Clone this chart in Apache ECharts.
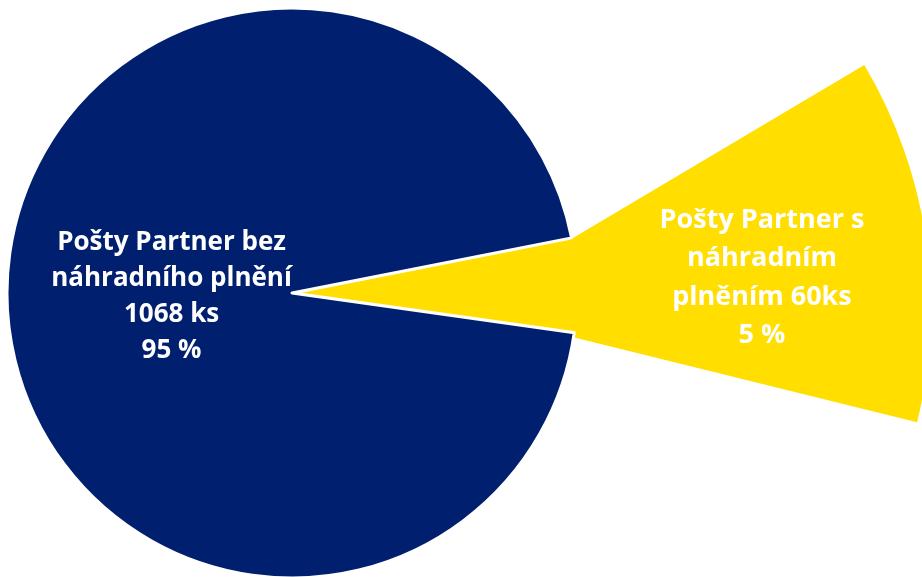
<!DOCTYPE html>
<html>
<head>
<meta charset="utf-8">
<script src="https://cdn.jsdelivr.net/npm/echarts@6/dist/echarts.min.js"></script>
<style>
  html, body { margin: 0; padding: 0; background: #ffffff; }
  #chart { width: 922px; height: 577px; }
</style>
</head>
<body>
<div id="chart"></div>
<script>
// ---- data ----
var categories = ['Pošty Partner bez náhradního plnění', 'Pošty Partner s náhradním plněním'];
var values = [1068, 60];
var unitSuffix = [' ks', 'ks'];
var labelHeads = ['Pošty Partner bez\nnáhradního plnění\n', 'Pošty Partner s\nnáhradním\nplněním '];
var colors = ['#00206F', '#FFDE00'];

var total = values.reduce(function (a, b) { return a + b; }, 0);
function labelText(i) {
  return labelHeads[i] + values[i] + unitSuffix[i] + '\n' + Math.round(values[i] / total * 100) + ' %';
}

var labelFont = {
  color: '#ffffff',
  fontFamily: 'Open Sans',
  fontWeight: 'bold'
};

var chart = echarts.init(document.getElementById('chart'), null, { renderer: 'canvas' });

// callout (label box) drawn as a wide pie slice behind the main pie
var calloutData = categories.map(function (c, i) {
  return {
    name: c,
    value: values[i],
    itemStyle: { color: i === 1 ? colors[1] : 'rgba(0,0,0,0)' },
    label: i === 1 ? Object.assign({ show: true, position: 'inside', fontSize: 27, lineHeight: 38.5,
      formatter: function () { return labelText(1); } }, labelFont) : { show: false }
  };
});

var pieData = categories.map(function (c, i) {
  return {
    name: c,
    value: values[i],
    selected: i === 1,
    itemStyle: i === 0 ? { color: colors[i], borderColor: '#ffffff', borderWidth: 3 }
                       : { color: colors[i], borderWidth: 0 },
    label: i === 0 ? Object.assign({ show: true, position: 'inside', fontSize: 26, lineHeight: 36,
      formatter: function () { return labelText(0); } }, labelFont) : { show: false }
  };
});

chart.setOption({
  backgroundColor: '#ffffff',
  animation: false,
  series: [
    {
      type: 'pie',
      z: 1,
      silent: true,
      center: [455, 308],
      radius: [123, 476],
      startAngle: -13.9,
      minAngle: 44.6,
      clockwise: true,
      labelLine: { show: false },
      labelLayout: { x: 762, y: 278, align: 'center', verticalAlign: 'middle' },
      data: calloutData
    },
    {
      type: 'pie',
      z: 2,
      center: [292, 293],
      radius: [0, 285],
      startAngle: -8,
      clockwise: true,
      selectedMode: 'single',
      selectedOffset: 10,
      labelLine: { show: false },
      labelLayout: { dx: 25, dy: 0 },
      emphasis: { disabled: true },
      data: pieData
    }
  ]
});
</script>
</body>
</html>
